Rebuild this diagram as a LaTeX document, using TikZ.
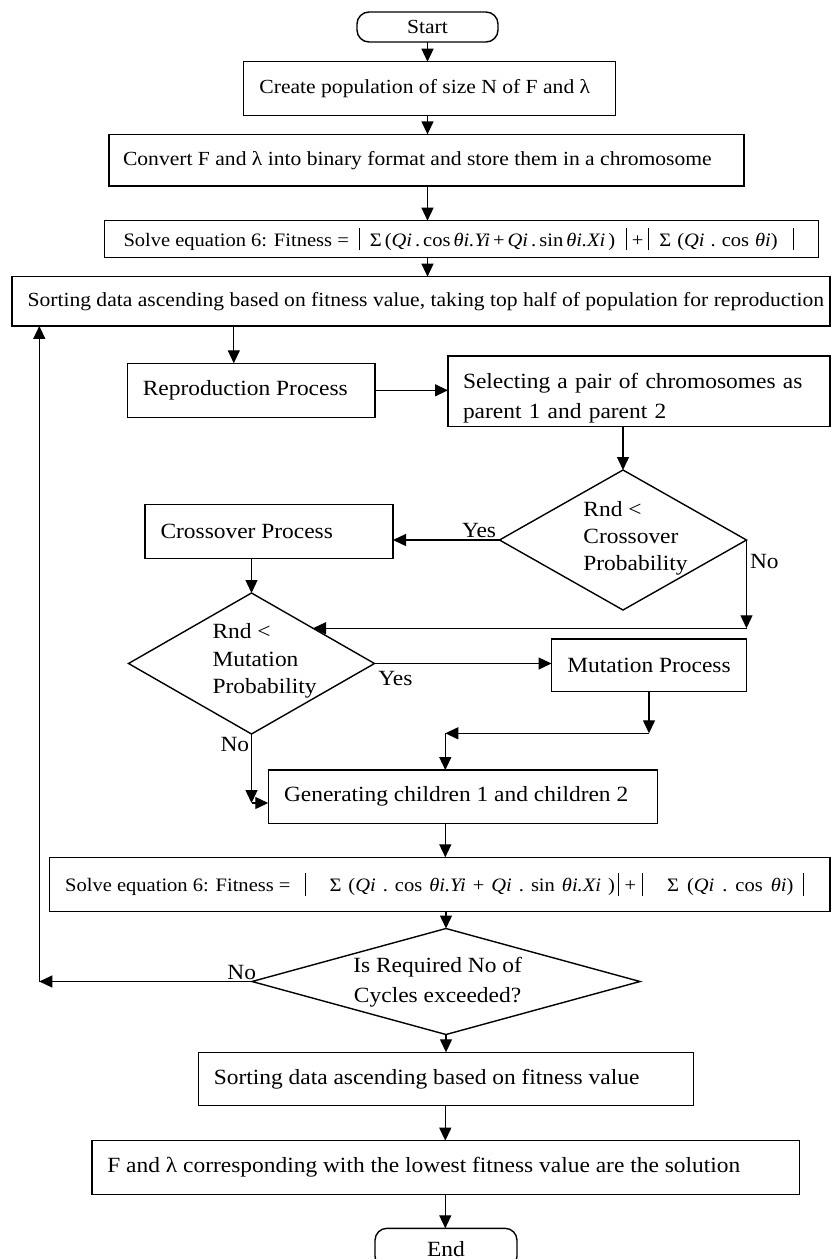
\documentclass[tikz,border=0pt]{standalone}
\usepackage{fontspec}
\setmainfont{Liberation Serif}[FakeStretch=1.08]
\usetikzlibrary{arrows.meta,shapes.geometric,calc}

\newcommand{\fA}{\fontsize{20}{24}\selectfont}
\newcommand{\fB}{\fontsize{21.7}{26}\selectfont}
\newcommand{\fS}{\fontsize{19}{23}\selectfont}
\newcommand{\mf}{\fontsize{19}{22}\selectfont}
\newcommand{\lt}[2]{\makebox[#1][l]{#2}}
\newcommand{\vbar}{\raisebox{-4pt}{\rule{1pt}{22.5pt}}}
\newcommand{\fitnesstext}[7]{Solve equation 6: Fitness =\hspace{#1}\vbar\hspace{#2}\makebox[#3][l]{\mf Σ\hspace{#6}(\textit{Qi}\hspace{#6}.\hspace{#6}cos\hspace{#6}\textit{θi.Yi}\hspace{#6}+\hspace{#6}\textit{Qi}\hspace{#6}.\hspace{#6}sin\hspace{#6}\textit{θi.Xi}\hspace{#6})}\vbar\hspace{#4}+\hspace{#4}\vbar\hspace{#2}\makebox[#5][l]{\mf Σ\hspace{#7}(\textit{Qi}\hspace{#7}.\hspace{#7}cos\hspace{#7}\textit{θi})}\vbar}

\tikzset{
  base/.style={draw, line width=1.4pt, inner sep=0pt, outer sep=0pt},
  box/.style={base, rectangle},
  term/.style={base, rectangle, rounded corners=12pt},
  dia/.style={base, diamond},
  txt/.style={inner sep=0pt, outer sep=0pt, align=left},
  lbl/.style={inner sep=0pt, outer sep=0pt, font=\fB},
  arr/.style={line width=1.3pt, -{Triangle[length=13pt,width=12pt]}},
}

\begin{document}
\begin{tikzpicture}[x=1pt,y=-1pt]
\useasboundingbox (0,0) rectangle (833,1259);

% nodes
\node[term, minimum width=141pt, minimum height=30pt, font=\fA] (start) at (427.5,27) {Start};
\node[box, minimum width=372pt, minimum height=54pt, font=\fA] (create) at (429.4,88.7) {\lt{340pt}{Create population of size N of F and λ}};
\node[box, minimum width=635pt, minimum height=51.7pt, font=\fA] (convert) at (426.5,160.2) {\lt{607pt}{Convert F and λ into binary format and store them in a chromosome}};
\node[box, minimum width=713.6pt, minimum height=36.6pt, font=\fS] (solve1) at (461.5,239) {\lt{676pt}{\fitnesstext{10pt}{10pt}{256pt}{5pt}{134pt}{3pt}{6pt}}};
\node[box, minimum width=818pt, minimum height=49.3pt, font=\fA] (sort1) at (421,301.3) {\lt{787pt}{Sorting data ascending based on fitness value, taking top half of population for reproduction}};
\node[box, minimum width=247.5pt, minimum height=54pt, font=\fB] (repro) at (251.25,390.3) {\lt{217pt}{Reproduction Process}};
\node[box, minimum width=382pt, minimum height=70.7pt, inner xsep=15pt, text width=352pt, align=left, font=\fontsize{21.7}{30}\selectfont] (select) at (639,391.3) {\rule{0pt}{30pt}Selecting a pair of chromosomes as\\parent 1 and parent 2};
\node[dia, minimum width=247pt, minimum height=140pt] (d1) at (623,540) {};
\node[txt, anchor=west, font=\fontsize{21.7}{27}\selectfont] (d1t) at (583.4,538) {Rnd <\\Crossover\\Probability};
\node[box, minimum width=248pt, minimum height=54pt, font=\fB] (cross) at (269,531.3) {\lt{217pt}{Crossover Process}};
\node[dia, minimum width=246pt, minimum height=141pt] (d2) at (251.5,663.5) {};
\node[txt, anchor=west, font=\fontsize{21.7}{27.5}\selectfont] (d2t) at (212.5,661) {Rnd <\\Mutation\\Probability};
\node[box, minimum width=195pt, minimum height=52.7pt, font=\fB] (mut) at (649,665.3) {Mutation Process};
\node[box, minimum width=389.5pt, minimum height=53.3pt, font=\fB] (gen) at (463,796.7) {\lt{358pt}{Generating children 1 and children 2}};
\node[box, minimum width=780.6pt, minimum height=54.4pt, font=\fS] (solve2) at (439.7,884.5) {\lt{749pt}{\fitnesstext{14pt}{24pt}{288pt}{6pt}{136pt}{7pt}{8pt}}};
\node[dia, minimum width=388pt, minimum height=106pt] (d3) at (446,981.5) {};
\node[txt, align=center, font=\fontsize{21.7}{29.4}\selectfont] (d3t) at (437.6,982) {Is Required No of\\Cycles exceeded?};
\node[box, minimum width=495.2pt, minimum height=53.4pt, font=\fB] (sort2) at (445.8,1079) {\lt{464pt}{Sorting data ascending based on fitness value}};
\node[box, minimum width=707.7pt, minimum height=53.6pt, font=\fB] (final) at (445.85,1167.5) {\lt{677pt}{F and λ corresponding with the lowest fitness value are the solution}};
\node[term, minimum width=142pt, minimum height=40pt, font=\fB, text height=16.8pt, text depth=0pt] (end) at (446,1248.3) {End};

% labels
\node[lbl, anchor=base west] (yes1) at (462,537) {Yes};
\node[lbl, anchor=base west] (no1) at (750,568) {No};
\node[lbl, anchor=base west] (yes2) at (378.3,685) {Yes};
\node[lbl, anchor=base west] (no2) at (220.5,751.7) {No};
\node[lbl, anchor=base west] (no3) at (227.4,979.3) {No};

% helper coordinates
\coordinate (cA) at (427.5,0);
\coordinate (cB) at (233.8,0);
\coordinate (cD) at (445.3,0);
\coordinate (h733) at (0,733.3);
\coordinate (h803) at (0,803);
\coordinate (lp) at (39.3,0);
\coordinate (k1) at (d1.east |- d2.north east);
\coordinate (m1) at (mut.south |- h733);
\coordinate (m2) at (445.3,733.3);
\coordinate (n2) at (d2.south |- h803);
\coordinate (k3) at (lp |- d3.west);

% connectors
\draw[arr] (start.south -| cA) -- (create.north -| cA);
\draw[arr] (create.south -| cA) -- (convert.north -| cA);
\draw[arr] (convert.south -| cA) -- (solve1.north -| cA);
\draw[arr] (solve1.south -| cA) -- (sort1.north -| cA);
\draw[arr] (sort1.south -| cB) -- (repro.north -| cB);
\draw[arr] (repro.east) -- (repro.east -| select.west);
\draw[arr] (select.south -| d1.north) -- (d1.north);
\draw[arr] (d1.west) -- (d1.west -| cross.east);
\draw[arr] (d1.east) -- (k1);
\draw[arr] (k1) -- (d2.north east);
\draw[arr] (cross.south -| d2.north) -- (d2.north);
\draw[arr] (d2.east) -- (d2.east -| mut.west);
\draw[arr] (mut.south) -- (m1);
\draw[arr] (m1) -- (m2);
\draw[arr] (m2) -- (m2 |- gen.north);
\draw[arr] (d2.south) -- (n2);
\draw[arr] (n2) -- (n2 -| gen.west);
\draw[arr] (gen.south -| cD) -- (solve2.north -| cD);
\draw[arr] (solve2.south -| d3.north) -- (d3.north);
\draw[arr] (d3.west) -- (k3);
\draw[arr] (k3) -- (k3 |- sort1.south);
\draw[arr] (d3.south) -- (d3.south |- sort2.north);
\draw[arr] (sort2.south -| cD) -- (final.north -| cD);
\draw[arr] (final.south -| cD) -- (end.north -| cD);
\end{tikzpicture}
\end{document}
